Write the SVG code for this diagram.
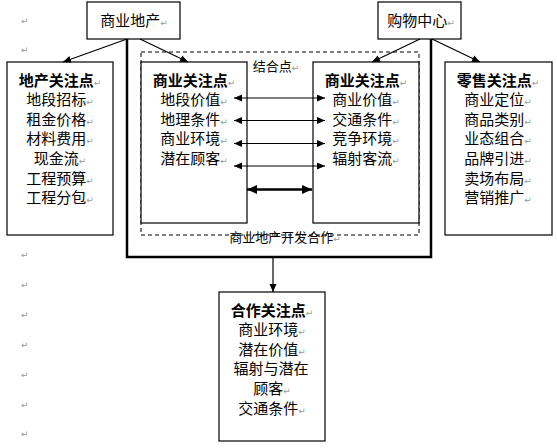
<svg xmlns="http://www.w3.org/2000/svg" width="557" height="448" viewBox="0 0 557 448">
<style>
  .box { fill: #fff; stroke: #000; stroke-width: 1.2; }
  .t { font-family: "Noto Sans CJK SC", "Noto Sans CJK JP", sans-serif; font-size: 15px; fill: #000; text-anchor: middle; }
  .b { font-weight: bold; }
  .s { font-size: 13px; }
  .pm { font-family: "DejaVu Sans", sans-serif; font-size: 9px; fill: #999; font-weight: normal; }
  .pml { font-family: "DejaVu Sans", sans-serif; font-size: 9px; fill: #999; }
  .ln { stroke: #000; stroke-width: 1.2; fill: none; }
</style>
<defs>
  <marker id="ah" markerUnits="userSpaceOnUse" markerWidth="9" markerHeight="8" refX="8" refY="3.5" orient="auto-start-reverse">
    <path d="M0,0 L8,3.5 L0,7 z" fill="#000"/>
  </marker>
  <marker id="ahb" markerUnits="userSpaceOnUse" markerWidth="12" markerHeight="10" refX="10" refY="4.5" orient="auto-start-reverse">
    <path d="M0,0 L10,4.5 L0,9 z" fill="#000"/>
  </marker>
</defs>
<rect width="557" height="448" fill="#fff"/>

<g id="paragraph-marks">
  <text class="pml" x="21" y="24">↵</text>
  <text class="pml" x="21" y="53">↵</text>
  <text class="pml" x="21" y="258">↵</text>
  <text class="pml" x="21" y="288">↵</text>
  <text class="pml" x="21" y="318">↵</text>
  <text class="pml" x="21" y="348">↵</text>
  <text class="pml" x="21" y="378">↵</text>
  <text class="pml" x="21" y="408">↵</text>
  <text class="pml" x="21" y="437">↵</text>
</g>

<g id="frame">
  <polyline points="127,39 127,257 431,257 431,39" fill="none" stroke="#000" stroke-width="2.5"/>
  <rect x="141" y="52" width="278" height="183" fill="none" stroke="#000" stroke-width="1" stroke-dasharray="4,3"/>
  <text class="t s" x="276" y="70.5">结合点<tspan class="pm">↵</tspan></text>
</g>

<g id="node-shangye-dichan">
  <rect class="box" x="87" y="2" width="93" height="37"/>
  <text class="t" x="134" y="26">商业地产<tspan class="pm">↵</tspan></text>
</g>

<g id="node-gouwu-zhongxin">
  <rect class="box" x="378" y="2" width="83" height="37"/>
  <text class="t" x="421" y="26">购物中心<tspan class="pm">↵</tspan></text>
</g>

<g id="node-dichan">
  <rect class="box" x="7" y="62" width="106" height="173"/>
  <text class="t b" x="60" y="85.5">地产关注点<tspan class="pm">↵</tspan></text>
  <text class="t" x="60" y="105.1">地段招标<tspan class="pm">↵</tspan></text>
  <text class="t" x="60" y="124.7">租金价格<tspan class="pm">↵</tspan></text>
  <text class="t" x="60" y="144.3">材料费用<tspan class="pm">↵</tspan></text>
  <text class="t" x="60" y="163.9">现金流<tspan class="pm">↵</tspan></text>
  <text class="t" x="60" y="183.5">工程预算<tspan class="pm">↵</tspan></text>
  <text class="t" x="60" y="203.1">工程分包<tspan class="pm">↵</tspan></text>
</g>

<g id="node-shangye-left">
  <rect class="box" x="141" y="62" width="106" height="161"/>
  <text class="t b" x="194" y="85.5">商业关注点<tspan class="pm">↵</tspan></text>
  <text class="t" x="194" y="105.1">地段价值<tspan class="pm">↵</tspan></text>
  <text class="t" x="194" y="124.7">地理条件<tspan class="pm">↵</tspan></text>
  <text class="t" x="194" y="144.3">商业环境<tspan class="pm">↵</tspan></text>
  <text class="t" x="194" y="163.9">潜在顾客<tspan class="pm">↵</tspan></text>
</g>

<g id="node-shangye-right">
  <rect class="box" x="313" y="62" width="106" height="161"/>
  <text class="t b" x="366" y="85.5">商业关注点<tspan class="pm">↵</tspan></text>
  <text class="t" x="366" y="105.1">商业价值<tspan class="pm">↵</tspan></text>
  <text class="t" x="366" y="124.7">交通条件<tspan class="pm">↵</tspan></text>
  <text class="t" x="366" y="144.3">竞争环境<tspan class="pm">↵</tspan></text>
  <text class="t" x="366" y="163.9">辐射客流<tspan class="pm">↵</tspan></text>
</g>

<g id="node-lingshou">
  <rect class="box" x="445" y="62" width="107" height="173"/>
  <text class="t b" x="498" y="85.5">零售关注点<tspan class="pm">↵</tspan></text>
  <text class="t" x="498" y="105.1">商业定位<tspan class="pm">↵</tspan></text>
  <text class="t" x="498" y="124.7">商品类别<tspan class="pm">↵</tspan></text>
  <text class="t" x="498" y="144.3">业态组合<tspan class="pm">↵</tspan></text>
  <text class="t" x="498" y="163.9">品牌引进<tspan class="pm">↵</tspan></text>
  <text class="t" x="498" y="183.5">卖场布局<tspan class="pm">↵</tspan></text>
  <text class="t" x="498" y="203.1">营销推广<tspan class="pm">↵</tspan></text>
</g>

<g id="label-kaifa">
  <text class="t s" x="285" y="241.5">商业地产开发合作<tspan class="pm">↵</tspan></text>
</g>

<g id="node-hezuo">
  <rect class="box" x="219" y="292" width="106" height="149"/>
  <text class="t b" x="272" y="315.5">合作关注点<tspan class="pm">↵</tspan></text>
  <text class="t" x="272" y="335.1">商业环境<tspan class="pm">↵</tspan></text>
  <text class="t" x="272" y="354.7">潜在价值<tspan class="pm">↵</tspan></text>
  <text class="t" x="271" y="374.3">辐射与潜在</text>
  <text class="t" x="272" y="393.9">顾客<tspan class="pm">↵</tspan></text>
  <text class="t" x="272" y="413.5">交通条件<tspan class="pm">↵</tspan></text>
</g>

<g id="connectors">
  <line class="ln" x1="127" y1="39" x2="63" y2="62" marker-end="url(#ah)"/>
  <line class="ln" x1="140" y1="39" x2="188" y2="62" marker-end="url(#ah)"/>
  <line class="ln" x1="420" y1="39" x2="372" y2="62" marker-end="url(#ah)"/>
  <line class="ln" x1="432" y1="39" x2="480" y2="62" marker-end="url(#ah)"/>
  <line class="ln" x1="234" y1="98" x2="325" y2="98" marker-start="url(#ah)" marker-end="url(#ah)"/>
  <line class="ln" x1="234" y1="120.5" x2="325" y2="120.5" marker-start="url(#ah)" marker-end="url(#ah)"/>
  <line class="ln" x1="234" y1="143.5" x2="325" y2="143.5" marker-start="url(#ah)" marker-end="url(#ah)"/>
  <line class="ln" x1="234" y1="166" x2="325" y2="166" marker-start="url(#ah)" marker-end="url(#ah)"/>
  <line x1="247" y1="189.5" x2="312" y2="189.5" stroke="#000" stroke-width="2.5" marker-start="url(#ahb)" marker-end="url(#ahb)"/>
  <line class="ln" x1="273" y1="257" x2="273" y2="292" marker-end="url(#ah)"/>
</g>
</svg>
